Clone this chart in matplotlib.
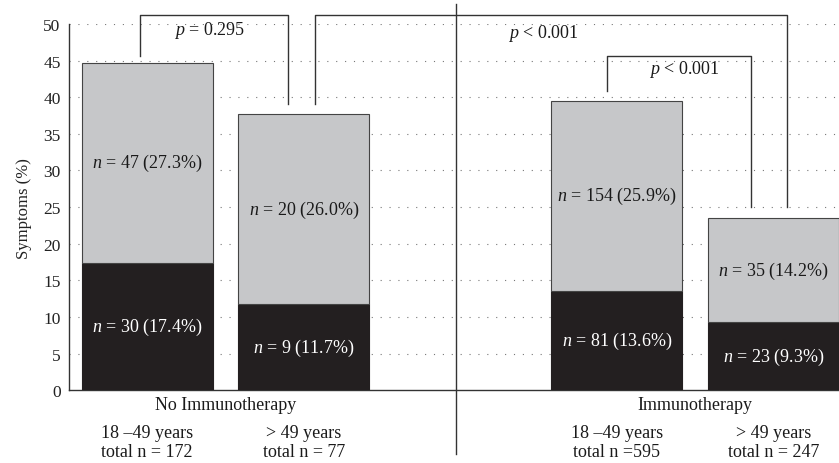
import matplotlib
matplotlib.use("Agg")
import matplotlib.pyplot as plt

plt.rcParams["font.family"] = ["Liberation Serif", "DejaVu Serif"]
plt.rcParams["mathtext.fontset"] = "custom"
plt.rcParams["mathtext.rm"] = "Liberation Serif"
plt.rcParams["mathtext.it"] = "Liberation Serif:italic"

# Bar positions (gap between the two therapy groups)
positions = [0, 1, 3, 4]
age_groups = ["18 \u201349 years", "> 49 years", "18 \u201349 years", "> 49 years"]
totals = ["total n = 172", "total n = 77", "total n =595", "total n = 247"]
group_names = ["No Immunotherapy", "Immunotherapy"]

# Symptom percentages (bottom = dark segment, top = light segment)
dark_pct = [17.4, 11.7, 13.6, 9.3]
dark_n = [30, 9, 81, 23]
light_pct = [27.3, 26.0, 25.9, 14.2]
light_n = [47, 20, 154, 35]

p_labels = ["$p$ = 0.295", "$p$ < 0.001", "$p$ < 0.001"]

fs = 13
dark = "#231f20"
light = "#c6c7c9"
line_c = "#333333"
txt_c = "#1a1a1a"

fig = plt.figure(figsize=(8.39, 4.64), dpi=100)
ax = fig.add_axes([0.0822, 0.157, 0.9178, 0.789])

width = 0.835
ax.bar(positions, dark_pct, width=width, color=dark, edgecolor=dark,
       linewidth=0.8, zorder=3)
ax.bar(positions, light_pct, width=width, bottom=dark_pct, color=light,
       edgecolor="#444444", linewidth=0.8, zorder=3)

for x, d, dn, l, ln in zip(positions, dark_pct, dark_n, light_pct, light_n):
    ax.text(x, d / 2, f"$n$ = {dn} ({d:.1f}%)", ha="center", va="center",
            color="white", fontsize=fs, zorder=4)
    ax.text(x, d + l / 2, f"$n$ = {ln} ({l:.1f}%)", ha="center", va="center",
            color=txt_c, fontsize=fs, zorder=4)

ax.set_xlim(-0.5, 4.42)
ax.set_ylim(0, 50)
ax.set_yticks(range(0, 51, 5))
ax.set_xticks([])
ax.tick_params(axis="y", length=0, labelsize=fs - 0.5, pad=6, colors="#222222")
ax.set_ylabel("Symptoms (%)", fontsize=fs - 1, labelpad=8, color="#222222")

for s in ["top", "right"]:
    ax.spines[s].set_visible(False)
for s in ["left", "bottom"]:
    ax.spines[s].set_color(line_c)
    ax.spines[s].set_linewidth(1.0)

for yv in range(5, 51, 5):
    ax.axhline(yv, color="#777777", linewidth=0.8, linestyle=(0, (1, 7)),
               zorder=1)

# Divider between therapy groups
ax.plot([1.97, 1.97], [-8.7, 52.7], color=line_c, linewidth=1.0,
        clip_on=False, zorder=5)

# Significance brackets
def bracket(x1, x2, y1, y2, ytop, label, tx, ty):
    ax.plot([x1, x1, x2, x2], [y1, ytop, ytop, y2], color=line_c,
            linewidth=1.0, clip_on=False, zorder=5)
    ax.text(tx, ty, label, ha="center", va="center", fontsize=fs,
            color=txt_c, zorder=5)

bracket(-0.047, 0.897, 45.6, 39.1, 51.2, p_labels[0], 0.40, 49.3)
bracket(1.075, 4.09, 39.1, 25.0, 51.2, p_labels[1], 2.53, 48.9)
bracket(2.94, 3.856, 40.8, 25.0, 45.6, p_labels[2], 3.43, 43.9)

# Group and subgroup labels below the axis
ax.text(0.5, -2.0, group_names[0], ha="center", va="center", fontsize=fs,
        color=txt_c, clip_on=False)
ax.text(3.5, -2.0, group_names[1], ha="center", va="center", fontsize=fs,
        color=txt_c, clip_on=False)
for x, a, t in zip(positions, age_groups, totals):
    ax.text(x, -5.8, a, ha="center", va="center", fontsize=fs,
            color=txt_c, clip_on=False)
    ax.text(x, -8.4, t, ha="center", va="center", fontsize=fs,
            color=txt_c, clip_on=False)

fig.savefig("out.png", dpi=100)
